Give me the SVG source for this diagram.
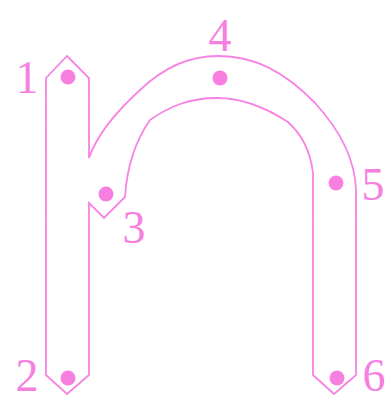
<svg xmlns="http://www.w3.org/2000/svg" width="391" height="395" viewBox="0 0 391 395">
<style>
.outline{fill:none;stroke:#f783e3;stroke-width:1.8;stroke-linejoin:miter}
.dot{fill:#f77fe0}
.lbl{font-family:"Liberation Serif","DejaVu Serif",serif;font-size:46px;fill:#f77fe0;text-anchor:middle}
</style>
<rect width="391" height="395" fill="#ffffff"/>
<g id="glyph">
<path class="outline" d="M67,56 L89,78 L89,158 C98,132 118,110 140,90 C165,66 190,56 218,56 C255,56 285,72 315,103 C338,128 355,158 356,190 L356,375 L334,394 L313,375 L313,173 C310,150 302,135 288,122 C265,107 240,98 217,98 C190,98 170,106 150,120 C136,140 127,165 125,197 L104,218 L89,203 L89,375 L67,394 L46,375 L46,78 Z"/>
</g>
<g id="node1"><circle class="dot" cx="68" cy="77" r="7.5"/><text class="lbl" x="27" y="93">1</text></g>
<g id="node2"><circle class="dot" cx="68" cy="378" r="7.5"/><text class="lbl" x="27" y="391">2</text></g>
<g id="node3"><circle class="dot" cx="106" cy="194" r="7.5"/><text class="lbl" x="134" y="243">3</text></g>
<g id="node4"><circle class="dot" cx="220" cy="78" r="7.5"/><text class="lbl" x="220" y="51">4</text></g>
<g id="node5"><circle class="dot" cx="336" cy="183" r="7.5"/><text class="lbl" x="373" y="200">5</text></g>
<g id="node6"><circle class="dot" cx="337" cy="378" r="7.5"/><text class="lbl" x="374" y="391">6</text></g>
<g id="connectors"></g>
</svg>
